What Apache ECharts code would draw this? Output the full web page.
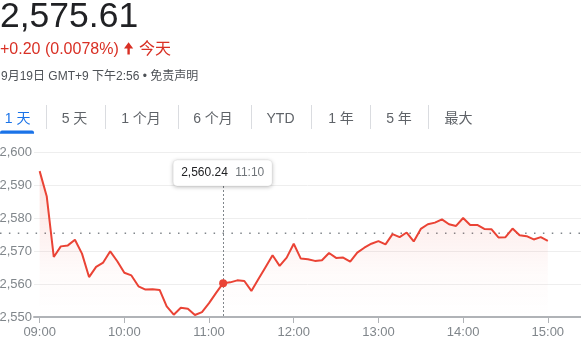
<!DOCTYPE html>
<html><head><meta charset="utf-8">
<script src="https://cdn.jsdelivr.net/npm/echarts@6/dist/echarts.min.js"></script>
<style>html,body{margin:0;padding:0;background:#fff;overflow:hidden}#c{width:581px;height:349px}</style>
</head><body><div id="c"></div>
<script>
// ---- data ----
const times = ['09:00','09:05','09:10','09:15','09:20','09:25','09:30','09:35','09:40','09:45','09:50','09:55',
'10:00','10:05','10:10','10:15','10:20','10:25','10:30','10:35','10:40','10:45','10:50','10:55',
'11:00','11:05','11:10','11:15','11:20','11:25','11:30','11:35','11:40','11:45','11:50','11:55',
'12:00','12:05','12:10','12:15','12:20','12:25','12:30','12:35','12:40','12:45','12:50','12:55',
'13:00','13:05','13:10','13:15','13:20','13:25','13:30','13:35','13:40','13:45','13:50','13:55',
'14:00','14:05','14:10','14:15','14:20','14:25','14:30','14:35','14:40','14:45','14:50','14:55','15:00'];
const values = [2594.2,2586.6,2568.2,2571.4,2571.7,2573.4,2569.2,2562.1,2565.2,2566.5,2569.9,2566.9,
2563.4,2562.6,2559.3,2558.3,2558.4,2558.2,2553.2,2550.7,2552.8,2552.5,2550.6,2551.5,
2554.2,2557.3,2560.24,2560.5,2561.1,2560.9,2557.9,2561.5,2565.1,2568.7,2565.5,2568.0,
2572.2,2567.7,2567.5,2567.0,2567.2,2569.4,2567.9,2568.0,2566.8,2569.5,2571.0,2572.2,
2573.0,2572.0,2575.1,2574.2,2575.6,2572.9,2576.7,2578.1,2578.6,2579.6,2578.1,2577.6,
2580.0,2577.9,2577.9,2576.7,2576.6,2574.1,2574.2,2576.8,2574.8,2574.5,2573.5,2574.2,2573.1];
const yMin = 2550, yMax = 2600, yStep = 10;
const prevClose = 2575.41;
const hoverTime = '11:10';
const hoverValue = 2560.24;
const hoverLabel = '2,560.24';
const price = '2,575.61';
const change = '+0.20 (0.0078%)';
const changeWord = '今天';
const dateLine = '9月19日 GMT+9 下午2:56 • 免责声明';
const tabs = ['1 天','5 天','1 个月','6 个月','YTD','1 年','5 年','最大'];

// ---- layout ----
const FONT = '"Liberation Sans", Arial, "Noto Sans CJK SC", sans-serif';
const RED = '#ea4335';
const tabCenters = [17.7, 74.5, 141, 213, 280.5, 341, 399, 458.5];
const tabSeps = [46, 105, 178, 251, 311, 370, 428];
const DAY = '2023/09/19 ';
function t(s){ return new Date(DAY + s + ':00').getTime(); }
const xMin = t('08:56');
const xMax = t('15:23') + 30000;

const chart = echarts.init(document.getElementById('c'), null, {renderer:'canvas'});
const option = {
  animation: false,
  grid: {left: 34, right: 0, top: 152, bottom: 32, containLabel: false, outerBoundsMode: 'none'},
  xAxis: {
    type: 'time', min: xMin, max: xMax,
    minInterval: 3600000, maxInterval: 3600000,
    axisLine: {lineStyle: {color: '#b0b3b7', width: 2}},
    axisTick: {show: true, length: 6, lineStyle: {color: '#b0b3b7', width: 1}},
    splitLine: {show: false},
    axisLabel: {
      color: '#80868b', fontSize: 13, fontFamily: FONT, margin: 9,
      showMinLabel: false, showMaxLabel: false,
      formatter: function(v){ const d = new Date(v); if (d.getMinutes() !== 0) return ''; return String(d.getHours()).padStart(2,'0') + ':00'; }
    }
  },
  yAxis: {
    type: 'value', min: yMin, max: yMax, interval: yStep,
    axisLine: {show: false}, axisTick: {show: false},
    splitLine: {lineStyle: {color: '#eeeeee', width: 1}},
    axisLabel: {color: '#80868b', fontSize: 13, fontFamily: FONT, margin: 2,
      formatter: function(v){ return v.toLocaleString('en-US'); }}
  },
  series: [{
    type: 'line', showSymbol: false, smooth: false,
    data: times.map((s, i) => [t(s), values[i]]),
    lineStyle: {color: RED, width: 2},
    itemStyle: {color: RED},
    areaStyle: {color: new echarts.graphic.LinearGradient(0, 0, 0, 1, [
      {offset: 0, color: 'rgba(234,67,53,0.22)'},
      {offset: 0.7, color: 'rgba(234,67,53,0.03)'},
      {offset: 1, color: 'rgba(234,67,53,0)'}])},
    markPoint: {
      symbol: 'circle', symbolSize: 8, silent: true,
      itemStyle: {color: RED},
      label: {show: false},
      data: [{coord: [t(hoverTime), hoverValue]}]
    }
  }]
};
chart.setOption(option);

const hp = chart.convertToPixel({gridIndex: 0}, [t(hoverTime), hoverValue]);
const pcY = chart.convertToPixel({gridIndex: 0}, [xMin, prevClose])[1];
const axisY = chart.convertToPixel({gridIndex: 0}, [xMin, yMin])[1];
const topY = chart.convertToPixel({gridIndex: 0}, [xMin, yMax])[1];

const g = [];
g.push({type:'text', style:{x: 0, y: 17.3, text: price, font: '35.5px ' + FONT, fill: '#202124', textVerticalAlign: 'middle'}});
g.push({type:'text', style:{x: 0, y: 49.5, text: change, font: '16px ' + FONT, fill: '#d93025', textVerticalAlign: 'middle'}});
g.push({type:'polygon', shape:{points:[[124,48.5],[128.6,42.2],[133.2,48.5],[129.8,48.5],[129.8,54.5],[127.4,54.5],[127.4,48.5]]}, style:{fill:'#d93025'}});
g.push({type:'text', style:{x: 139, y: 49.5, text: changeWord, font: '16px ' + FONT, fill: '#d93025', textVerticalAlign: 'middle'}});
g.push({type:'text', style:{x: 1, y: 76.6, text: dateLine, font: '12px ' + FONT, fill: '#4d5156', textVerticalAlign: 'middle'}});
tabs.forEach((s, i) => {
  g.push({type:'text', style:{x: tabCenters[i], y: 119.5, text: s, font: '14px ' + FONT, fill: i === 0 ? '#1a73e8' : '#5f6368', textAlign: 'center', textVerticalAlign: 'middle'}});
});
tabSeps.forEach(x => {
  g.push({type:'line', shape:{x1: x + 0.5, y1: 105, x2: x + 0.5, y2: 129}, style:{stroke:'#dadce0', lineWidth: 1}});
});
g.push({type:'rect', shape:{x: 0, y: 130.5, width: 34, height: 3.2, r: [2,2,0,0]}, style:{fill:'#1a73e8'}});
// previous close dotted line
g.push({type:'line', z: 1, shape:{x1: 0, y1: pcY, x2: 581, y2: pcY}, style:{stroke:'#80868b', lineWidth: 1.5, lineDash:[1.5, 7.4]}});
// crosshair
const tipTop = topY + 8, tipH = 26;
g.push({type:'line', z: 1, shape:{x1: Math.round(hp[0]) + 0.5, y1: tipTop + tipH, x2: Math.round(hp[0]) + 0.5, y2: axisY - 1}, style:{stroke:'#80868b', lineWidth: 1, lineDash:[2, 2]}});
// tooltip
g.push({type:'rect', z: 100, shape:{x: hp[0] - 50, y: tipTop, width: 99, height: tipH, r: 4},
  style:{fill:'#fff', stroke:'rgba(0,0,0,0.06)', lineWidth: 1, shadowBlur: 4, shadowOffsetY: 1, shadowColor:'rgba(0,0,0,0.28)'}});
g.push({type:'text', z: 101, style:{x: hp[0] - 42, y: tipTop + 12.5, text: hoverLabel, font: '12px ' + FONT, fill: '#202124', textVerticalAlign: 'middle'}});
g.push({type:'text', z: 101, style:{x: hp[0] + 12, y: tipTop + 12.5, text: hoverTime, font: '12px ' + FONT, fill: '#70757a', textVerticalAlign: 'middle'}});

chart.setOption({graphic: g});
</script></body></html>
